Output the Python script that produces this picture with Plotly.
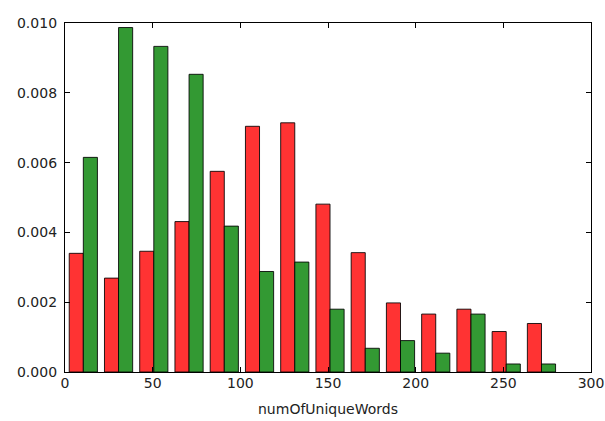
import plotly.graph_objects as go

# Histogram bin edges (numOfUniqueWords)
bin_edges = [0.4, 20.5, 40.6, 60.7, 80.8, 100.9, 121.0, 141.1, 161.2,
             181.3, 201.4, 221.5, 241.6, 261.7, 281.8]
# Normalised densities per bin
red_values = [0.00340, 0.00269, 0.00346, 0.00431, 0.00575, 0.00704, 0.00714,
              0.00481, 0.00342, 0.00198, 0.00166, 0.00180, 0.00116, 0.00139]
green_values = [0.00615, 0.00987, 0.00933, 0.00853, 0.00418, 0.00288, 0.00315,
                0.00180, 0.00068, 0.00090, 0.00054, 0.00166, 0.00023, 0.00023]
x_ticks = [0, 50, 100, 150, 200, 250, 300]
y_ticks = [0.000, 0.002, 0.004, 0.006, 0.008, 0.010]

centers = [(a + b) / 2 for a, b in zip(bin_edges[:-1], bin_edges[1:])]

edge = dict(color="rgba(0,0,0,0.85)", width=1)
fig = go.Figure()
fig.add_trace(go.Bar(x=centers, y=red_values, name="red",
                     marker=dict(color="rgb(255,51,51)", line=edge)))
fig.add_trace(go.Bar(x=centers, y=green_values, name="green",
                     marker=dict(color="rgb(51,153,51)", line=edge)))

axis_common = dict(showline=True, linecolor="black", linewidth=1.3, mirror="ticks",
                   ticks="inside", ticklen=5, tickcolor="black", tickwidth=1,
                   showgrid=False, zeroline=False, automargin=False,
                   tickfont=dict(family="DejaVu Sans", size=14, color="#222"))

fig.update_layout(
    width=605, height=421,
    margin=dict(l=65, r=14, t=23, b=49),
    paper_bgcolor="white", plot_bgcolor="white",
    barmode="group", bargap=0.2, bargroupgap=0,
    showlegend=False,
    xaxis=dict(range=[0, 300], tickvals=x_ticks, ticklabelstandoff=-2,
               title=dict(text="numOfUniqueWords", standoff=14,
                          font=dict(family="DejaVu Sans", size=14, color="#222")),
               **axis_common),
    yaxis=dict(range=[0, 0.010], tickvals=y_ticks, tickformat=".3f",
               ticklabelstandoff=4, **axis_common),
)

fig.write_html(
    "out.html",
    config={"displayModeBar": False},
    post_script="document.body.style.margin='0';document.body.style.overflow='hidden';",
)
